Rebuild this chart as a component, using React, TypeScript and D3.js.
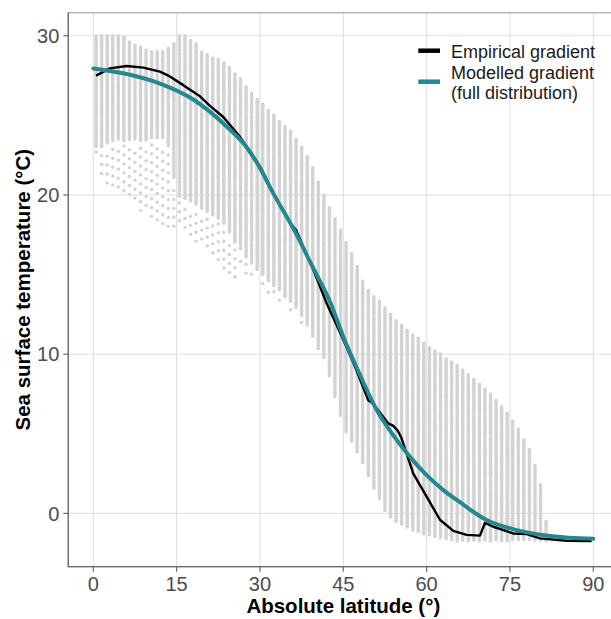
import React, { useEffect, useRef } from 'react';
import * as d3 from 'd3';

// latitude bins of the gridded SST points (bin centres)
const binLat = [
  0.5, 1.5, 2.5, 3.5, 4.5, 5.5, 6.5, 7.5, 8.5, 9.5, 10.5, 11.5, 12.5, 13.5, 14.5, 15.5, 16.5, 17.5, 18.5, 19.5,
  20.5, 21.5, 22.5, 23.5, 24.5, 25.5, 26.5, 27.5, 28.5, 29.5, 30.5, 31.5, 32.5, 33.5, 34.5, 35.5, 36.5, 37.5, 38.5, 39.5,
  40.5, 41.5, 42.5, 43.5, 44.5, 45.5, 46.5, 47.5, 48.5, 49.5, 50.5, 51.5, 52.5, 53.5, 54.5, 55.5, 56.5, 57.5, 58.5, 59.5,
  60.5, 61.5, 62.5, 63.5, 64.5, 65.5, 66.5, 67.5, 68.5, 69.5, 70.5, 71.5, 72.5, 73.5, 74.5, 75.5, 76.5, 77.5, 78.5, 79.5,
  80.5, 81.5,
];
// warmest point in each bin
const binMax = [
  30.0, 30.0, 30.0, 30.0, 30.0, 29.9, 29.6, 29.4, 29.3, 29.1, 29.0, 29.0, 29.0, 29.2, 29.5, 30.0, 30.0, 29.7, 29.5, 29.0,
  28.8, 28.6, 28.5, 28.3, 28.0, 27.6, 27.3, 26.8, 26.4, 26.0, 25.7, 25.3, 25.0, 24.6, 24.3, 24.0, 23.5, 23.0, 22.4, 21.7,
  20.8, 20.0, 19.2, 18.5, 17.8, 17.0, 16.3, 15.5, 14.6, 14.0, 13.6, 13.3, 12.9, 12.5, 12.1, 11.8, 11.5, 11.2, 11.0, 10.7,
  10.4, 10.2, 10.0, 9.7, 9.5, 9.3, 9.0, 8.7, 8.4, 8.1, 7.8, 7.5, 7.1, 6.7, 6.3, 5.8, 5.3, 4.6, 4.0, 3.0,
  1.8, -0.5,
];
// lower edge of the dense part of each bin
const binDenseMin = [
  23.0, 23.0, 23.2, 23.3, 23.4, 23.4, 23.4, 23.4, 23.4, 23.4, 23.5, 23.5, 23.5, 23.0, 21.0, 19.9, 19.7, 19.5, 19.3, 19.1,
  18.9, 18.7, 18.5, 18.2, 17.6, 17.0, 16.5, 16.0, 15.6, 15.2, 14.9, 14.6, 14.3, 14.0, 13.6, 13.3, 12.9, 12.4, 11.8, 11.1,
  10.3, 9.7, 8.6, 7.3, 6.1, 5.1, 4.5, 3.8, 3.1, 2.3, 1.6, 0.9, 0.1, -0.3, -0.5, -0.7, -0.9, -1.05, -1.2, -1.35,
  -1.45, -1.55, -1.62, -1.68, -1.75, -1.75, -1.75, -1.75, -1.75, -1.75, -1.75, -1.75, -1.75, -1.75, -1.75, -1.75, -1.75, -1.75, -1.75, -1.75,
  -1.75, -1.75,
];
// coldest (sparse) point in each bin
const binMin = [
  22.2, 21.0, 20.5, 20.2, 20.0, 19.8, 19.5, 19.3, 19.0, 18.8, 18.6, 18.4, 18.2, 18.0, 18.0, 18.0, 17.6, 17.3, 17.0, 16.8,
  16.5, 16.2, 15.8, 15.2, 14.6, 14.8, 15.3, 15.0, 14.6, 14.4, 14.0, 13.8, 13.6, 13.2, 12.8, 12.5, 12.2, 11.8, 11.3, 10.8,
  10.1, 9.5, 8.4, 7.1, 6.0, 5.0, 4.5, 3.8, 3.1, 2.3, 1.6, 0.9, 0.1, -0.3, -0.5, -0.7, -0.9, -1.05, -1.2, -1.35,
  -1.45, -1.55, -1.62, -1.68, -1.75, -1.75, -1.75, -1.75, -1.75, -1.75, -1.75, -1.75, -1.75, -1.75, -1.75, -1.75, -1.75, -1.75, -1.75, -1.75,
  -1.75, -1.75,
];

// empirical gradient
const empLat = [0.5, 3, 6, 9, 12, 13.5, 16.2, 19.2, 21, 23.4, 26.4, 30, 32.4, 34.5, 35.5, 36.5, 39.6, 42, 45, 47, 49.5, 50, 51, 53.1, 54, 54.8, 55.5, 57.6, 60, 62.4, 64.8, 67.2, 69.6, 70.5, 72, 75.6, 78, 80.4, 85.2, 89.7];
const empSst = [27.5, 27.95, 28.1, 28.0, 27.75, 27.5, 26.9, 26.2, 25.6, 24.9, 23.65, 21.8, 20.1, 18.8, 18.2, 17.8, 15.3, 13.2, 10.9, 9.3, 7.1, 7.0, 6.6, 5.65, 5.5, 5.2, 4.7, 2.5, 1.05, -0.4, -1.1, -1.35, -1.4, -0.6, -0.84, -1.26, -1.3, -1.57, -1.72, -1.74];

// modelled gradient (full distribution)
const modLat = [0, 6, 12, 18, 24, 27.6, 30, 32.4, 36, 39.6, 42.6, 45, 48, 51, 54, 57, 60, 63, 66, 70.8, 76.2, 82.2, 90];
const modSst = [27.95, 27.6, 27.0, 26.0, 24.3, 23.0, 21.7, 20.1, 17.9, 15.4, 13.3, 11.1, 8.7, 6.5, 4.9, 3.55, 2.4, 1.46, 0.7, -0.42, -1.05, -1.42, -1.6];

const xTicks = [0, 15, 30, 45, 60, 75, 90];
const yTicks = [0, 10, 20, 30];

const legendItems = [
  { label: ['Empirical gradient'], color: '#000000' },
  { label: ['Modelled gradient', '(full distribution)'], color: '#23888f' },
];

const App = () => {
  const svgRef = useRef<SVGSVGElement>(null);

  useEffect(() => {
    const width = 611;
    const height = 619;
    const left = 68.3, right = 618.3, top = 12.7, bottom = 566.7;
    const font = 'Liberation Sans, Arial, sans-serif';

    const svg = d3.select(svgRef.current);
    svg.selectAll('*').remove();
    svg.attr('width', width).attr('height', height);

    const x = d3.scaleLinear().domain([-4.5, 94.5]).range([left, right]);
    const y = d3.scaleLinear().domain([-3.35, 31.45]).range([bottom, top]);

    svg.append('defs').append('clipPath').attr('id', 'panel')
      .append('rect').attr('x', left).attr('y', top).attr('width', right - left).attr('height', bottom - top);

    // grid
    const grid = svg.append('g');
    xTicks.forEach(t => {
      grid.append('line').attr('x1', x(t)).attr('x2', x(t)).attr('y1', top).attr('y2', bottom)
        .attr('stroke', '#dedede').attr('stroke-width', 1);
    });
    yTicks.forEach(t => {
      grid.append('line').attr('x1', left).attr('x2', right).attr('y1', y(t)).attr('y2', y(t))
        .attr('stroke', '#dedede').attr('stroke-width', 1);
    });

    // gridded points
    const pts = svg.append('g').attr('clip-path', 'url(#panel)').attr('fill', '#d3d3d3');
    binLat.forEach((lat, i) => {
      const cx = x(lat);
      for (let t = binMax[i]; t >= binDenseMin[i]; t -= 0.12) {
        pts.append('circle').attr('cx', cx).attr('cy', y(t)).attr('r', 1.8);
      }
      const off = (i * 0.23) % 0.56;
      for (let t = binDenseMin[i] - 0.3 - off; t >= binMin[i]; t -= 0.56) {
        pts.append('circle').attr('cx', cx).attr('cy', y(t)).attr('r', 1.7);
      }
    });

    const line = d3.line<[number, number]>().x(d => x(d[0])).y(d => y(d[1]));
    const lines = svg.append('g').attr('clip-path', 'url(#panel)').attr('fill', 'none');
    lines.append('path')
      .datum(empLat.map((v, i) => [v, empSst[i]] as [number, number]))
      .attr('d', line.curve(d3.curveLinear))
      .attr('stroke', '#000').attr('stroke-width', 2.4).attr('stroke-linejoin', 'round');
    lines.append('path')
      .datum(modLat.map((v, i) => [v, modSst[i]] as [number, number]))
      .attr('d', line.curve(d3.curveMonotoneX))
      .attr('stroke', '#23888f').attr('stroke-width', 4).attr('stroke-linecap', 'round');

    // panel border and axis lines
    svg.append('rect').attr('x', left).attr('y', top).attr('width', right - left).attr('height', bottom - top)
      .attr('fill', 'none').attr('stroke', '#a6a6a6').attr('stroke-width', 1.2);
    svg.append('line').attr('x1', left).attr('x2', left).attr('y1', top).attr('y2', bottom + 0.6)
      .attr('stroke', '#6b6b6b').attr('stroke-width', 1.3);
    svg.append('line').attr('x1', left - 0.6).attr('x2', right).attr('y1', bottom).attr('y2', bottom)
      .attr('stroke', '#6b6b6b').attr('stroke-width', 1.3);

    // ticks
    const ax = svg.append('g').style('font-family', font).attr('fill', '#4d4d4d').style('font-size', '20px');
    xTicks.forEach(t => {
      ax.append('line').attr('x1', x(t)).attr('x2', x(t)).attr('y1', bottom).attr('y2', bottom + 5)
        .attr('stroke', '#6b6b6b').attr('stroke-width', 1.2);
      ax.append('text').attr('x', x(t)).attr('y', bottom + 24).attr('text-anchor', 'middle').text(t);
    });
    yTicks.forEach(t => {
      ax.append('line').attr('x1', left - 5).attr('x2', left).attr('y1', y(t)).attr('y2', y(t))
        .attr('stroke', '#6b6b6b').attr('stroke-width', 1.2);
      ax.append('text').attr('x', left - 9).attr('y', y(t)).attr('dy', '0.36em').attr('text-anchor', 'end').text(t);
    });

    // axis titles
    svg.append('text').attr('x', (left + right) / 2).attr('y', 613)
      .attr('text-anchor', 'middle').style('font-family', font).style('font-weight', 'bold').style('font-size', '20.5px')
      .text('Absolute latitude (°)');
    svg.append('text').attr('transform', `translate(29.5, ${(top + bottom) / 2}) rotate(-90)`)
      .attr('text-anchor', 'middle').style('font-family', font).style('font-weight', 'bold').style('font-size', '20.5px')
      .text('Sea surface temperature (°C)');

    // legend
    const lg = svg.append('g').style('font-family', font).style('font-size', '18px').attr('fill', '#1a1a1a');
    const keyY = [50.7, 81.7];
    const textY = [[57.5], [78.8, 99]];
    legendItems.forEach((item, i) => {
      lg.append('line').attr('x1', 418.3).attr('x2', 440).attr('y1', keyY[i]).attr('y2', keyY[i])
        .attr('stroke', item.color).attr('stroke-width', 4.5);
      item.label.forEach((s, j) => {
        lg.append('text').attr('x', 451).attr('y', textY[i][j]).text(s);
      });
    });
  }, []);

  return <svg ref={svgRef} width={611} height={619} style={{ position: 'absolute', left: 0, top: 0, background: 'white' }}></svg>;
};

export default App;
